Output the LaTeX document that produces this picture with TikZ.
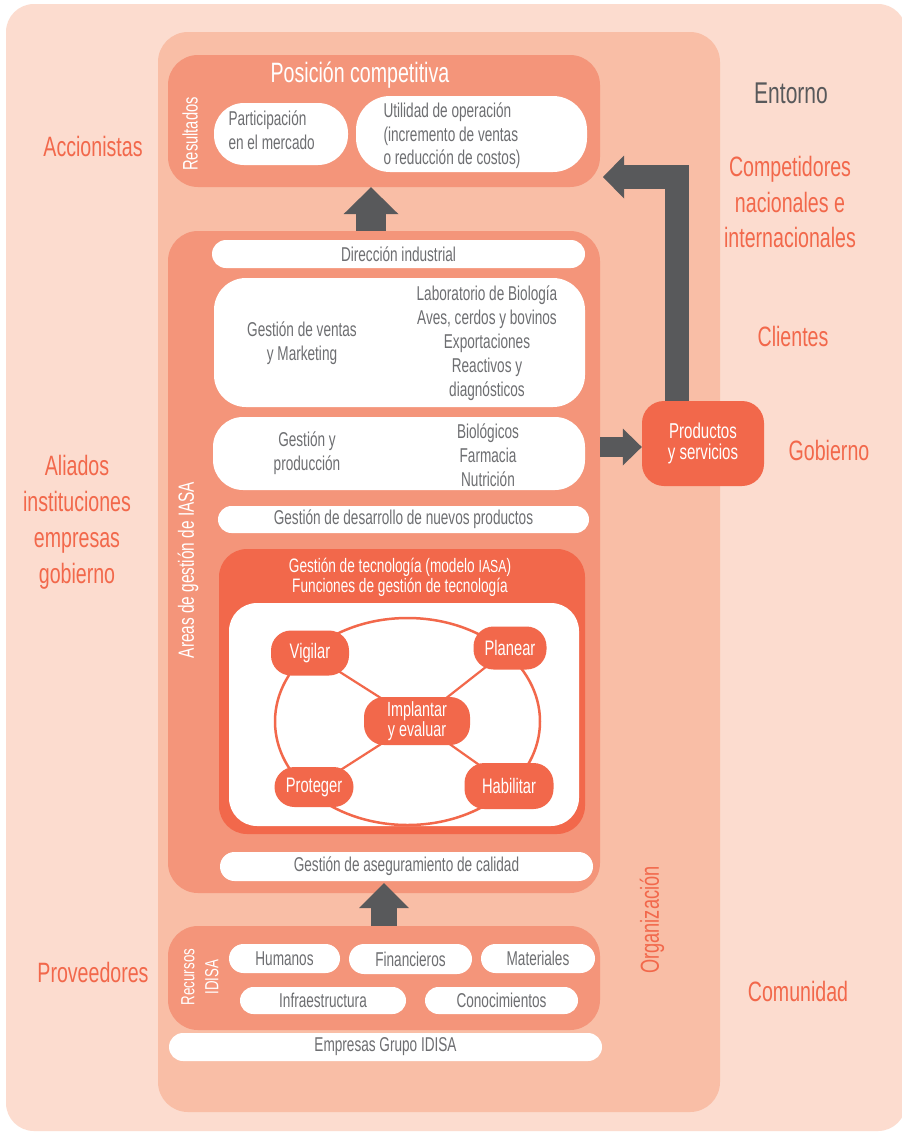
\documentclass[tikz,border=0pt]{standalone}
\usepackage{fontspec}
\setmainfont{Liberation Sans}[FakeStretch=0.70]
\newfontfamily\grayfont{Liberation Sans}[FakeStretch=0.68]
\usetikzlibrary{arrows.meta}

\definecolor{outerbg}{HTML}{FCDCCF}
\definecolor{orgbg}{HTML}{F9BEA6}
\definecolor{salmon}{HTML}{F4957A}
\definecolor{coral}{HTML}{F2684B}
\definecolor{arrowgray}{HTML}{58595B}
\definecolor{txtgray}{HTML}{6D6E71}

\pgfdeclarelayer{front}
\pgfsetlayers{main,front}

% box given by its corners: [options]{name}{x1}{y1}{x2}{y2}{text}
\newcommand{\panelnode}[7][]{%
  \pgfmathsetmacro\pcx{(#3+#5)/2}%
  \pgfmathsetmacro\pcy{(#4+#6)/2}%
  \pgfmathsetmacro\pw{#5-#3}%
  \pgfmathsetmacro\ph{#6-#4}%
  \node[minimum width=\pw pt, minimum height=\ph pt, inner sep=0pt, #1] (#2) at (\pcx,\pcy) {#7};}

\tikzset{
  panel/.style={fill=#1, draw=none},
  pill/.style={fill=white, draw=none, rounded corners=#1},
  graytext/.style={text=txtgray, font=\grayfont\fontsize{20}{24}\selectfont, align=center},
  whitetext/.style={text=white, font=\fontsize{21}{22}\selectfont, align=center},
  sidelabel/.style={text=coral, font=\fontsize{28}{35.5}\selectfont, align=center},
  funcnode/.style={fill=coral, draw=none, rounded corners=20pt, text=white,
    font=\fontsize{21}{16}\selectfont, align=center, inner sep=0pt},
  link/.style={draw=coral, line width=2.2pt},
  bigarrow/.style={draw=arrowgray, line join=miter},
}

\begin{document}
\begin{tikzpicture}[x=1pt, y=-1pt]
\useasboundingbox (0,0) rectangle (902,1133);
\fill[white] (0,0) rectangle (902,1133);

% environment and organisation
\panelnode[panel=outerbg, rounded corners=28pt]{outer}{6}{4}{906}{1131}{}
\panelnode[panel=orgbg, rounded corners=30pt]{org}{158}{32}{720}{1112}{}

% results
\panelnode[panel=salmon, rounded corners=30pt]{res}{168}{55}{600}{187}{}
\node[text=white, font=\fontsize{28}{30}\selectfont] (pos) at (360,75) {Posición competitiva};
\node[whitetext, rotate=90] (resl) at (190,134) {Resultados};
\panelnode[pill=30pt]{part}{214}{103}{348}{165}{}
\node[graytext, align=left, anchor=west] (partt) at (225,130) {Participación\\en el mercado};
\panelnode[pill=34pt]{util}{356}{96}{587}{172}{}
\node[graytext, align=left, anchor=west, font=\grayfont\fontsize{20}{23.5}\selectfont] (utilt) at (380,136)
  {Utilidad de operación\\(incremento de ventas\\o reducción de costos)};

% management areas
\panelnode[panel=salmon, rounded corners=30pt]{areas}{168}{231}{600}{893}{}
\node[whitetext, rotate=90, font=\fontsize{22}{24}\selectfont] (areasl) at (188,570) {Areas de gestión de IASA};
\panelnode[pill=14pt, graytext]{dir}{212}{240}{585}{268}{Dirección industrial}
\panelnode[pill=32pt]{ventas}{214}{278}{585}{407}{}
\node[graytext] (ventasl) at (302,343) {Gestión de ventas\\y Marketing};
\node[graytext] (ventasr) at (487,343) {Laboratorio de Biología\\Aves, cerdos y bovinos\\Exportaciones\\Reactivos y\\diagnósticos};
\panelnode[pill=30pt]{prod}{213}{417}{585}{490}{}
\node[graytext] (prodl) at (307,453) {Gestión y\\producción};
\node[graytext] (prodr) at (488,455) {Biológicos\\Farmacia\\Nutrición};
\panelnode[pill=13.5pt, graytext]{desa}{218}{506}{589}{533}{Gestión de desarrollo de nuevos productos}

% technology management
\panelnode[panel=coral, rounded corners=28pt]{tec}{219}{549}{585}{834}{}
\node[text=white, font=\fontsize{19.5}{20}\selectfont, align=center] (tect) at (400,577)
  {Gestión de tecnología (modelo {\fontsize{17.5}{20}\selectfont IASA})\\Funciones de gestión de tecnología};
\panelnode[pill=28pt]{tecin}{229}{603}{579}{826}{}
\coordinate (ringc) at (407.5,721.5);
\draw[link, line width=2.5pt] (ringc) ellipse [x radius=132.5, y radius=103.5];

\begin{pgfonlayer}{front}
\node[funcnode, minimum width=78pt, minimum height=45pt] (vig) at (310,653) {Vigilar};
\node[funcnode, minimum width=73pt, minimum height=43pt] (plan) at (510,648) {Planear};
\node[funcnode, minimum width=106pt, minimum height=48pt, font=\fontsize{20.5}{16.5}\selectfont] (impl) at (417,721) {Implantar\\y evaluar};
\node[funcnode, minimum width=79pt, minimum height=40pt] (prot) at (314,787) {Proteger};
\node[funcnode, minimum width=89pt, minimum height=46pt] (hab) at (509,786) {Habilitar};
\end{pgfonlayer}
\draw[link] (impl.center) -- (vig.center);
\draw[link] (impl.center) -- (plan.center);
\draw[link] (impl.center) -- (prot.center);
\draw[link] (impl.center) -- (hab.center);

\panelnode[pill=14.5pt, graytext]{aseg}{220}{852}{593}{881}{Gestión de aseguramiento de calidad}

% resources
\panelnode[panel=salmon, rounded corners=30pt]{recur}{168}{926}{600}{1030}{}
\node[text=white, font=\fontsize{19}{24}\selectfont, align=center, rotate=90] (recurl) at (200,977) {Recursos\\IDISA};
\panelnode[pill=14.5pt, graytext]{hum}{229}{944}{340}{973}{Humanos}
\panelnode[pill=15pt, graytext]{fin}{349}{944}{472}{974}{Financieros}
\panelnode[pill=14.5pt, graytext]{mat}{481}{944}{595}{973}{Materiales}
\panelnode[pill=13.5pt, graytext]{infra}{240}{987}{406}{1014}{Infraestructura}
\panelnode[pill=13.5pt, graytext]{cono}{425}{987}{578}{1014}{Conocimientos}
\panelnode[pill=14pt, graytext]{emp}{169}{1033}{602}{1061}{Empresas Grupo IDISA}

\node[text=coral, font=\fontsize{26}{28}\selectfont, rotate=90] (orgl) at (652,920) {Organización};

% products and services
\panelnode[panel=coral, rounded corners=22pt, text=white, font=\fontsize{21.5}{21}\selectfont, align=center]{ps}{642}{401}{764}{486}{Productos\\y servicios}

% flow arrows
\coordinate (a1) at (371,0);
\coordinate (a2) at (384,0);
\coordinate (a2tip) at (384,883);
\coordinate (a3) at (0,447);
\coordinate (a4) at (677,0);
\coordinate (a4tip) at (603,177);
\draw[bigarrow, line width=30pt, -{Triangle[width=55pt, length=27pt, line width=0pt]}]
  (areas.north -| a1) -- (res.south -| a1);
\draw[bigarrow, line width=26pt, -{Triangle[width=50pt, length=25pt, line width=0pt]}]
  (recur.north -| a2) -- (a2tip);
\draw[bigarrow, line width=20pt, -{Triangle[width=37pt, length=19pt, line width=0pt]}]
  (areas.east |- a3) -- (ps.west |- a3);
\draw[bigarrow, line width=24pt, -{Triangle[width=43pt, length=21pt, line width=0pt]}]
  (ps.north -| a4) |- (a4tip);

% surrounding actors
\node[text=arrowgray, font=\fontsize{30}{32}\selectfont] (ent) at (791,93) {Entorno};
\node[sidelabel] (acc) at (93,146) {Accionistas};
\node[sidelabel] (comp) at (790,202) {Competidores\\nacionales e\\internacionales};
\node[sidelabel] (cli) at (793,336) {Clientes};
\node[sidelabel] (gob) at (829,450) {Gobierno};
\node[sidelabel, font=\fontsize{28}{36}\selectfont] (ali) at (77,522) {Aliados\\instituciones\\empresas\\gobierno};
\node[sidelabel] (prov) at (93,972) {Proveedores};
\node[sidelabel] (comu) at (798,991) {Comunidad};
\end{tikzpicture}
\end{document}
